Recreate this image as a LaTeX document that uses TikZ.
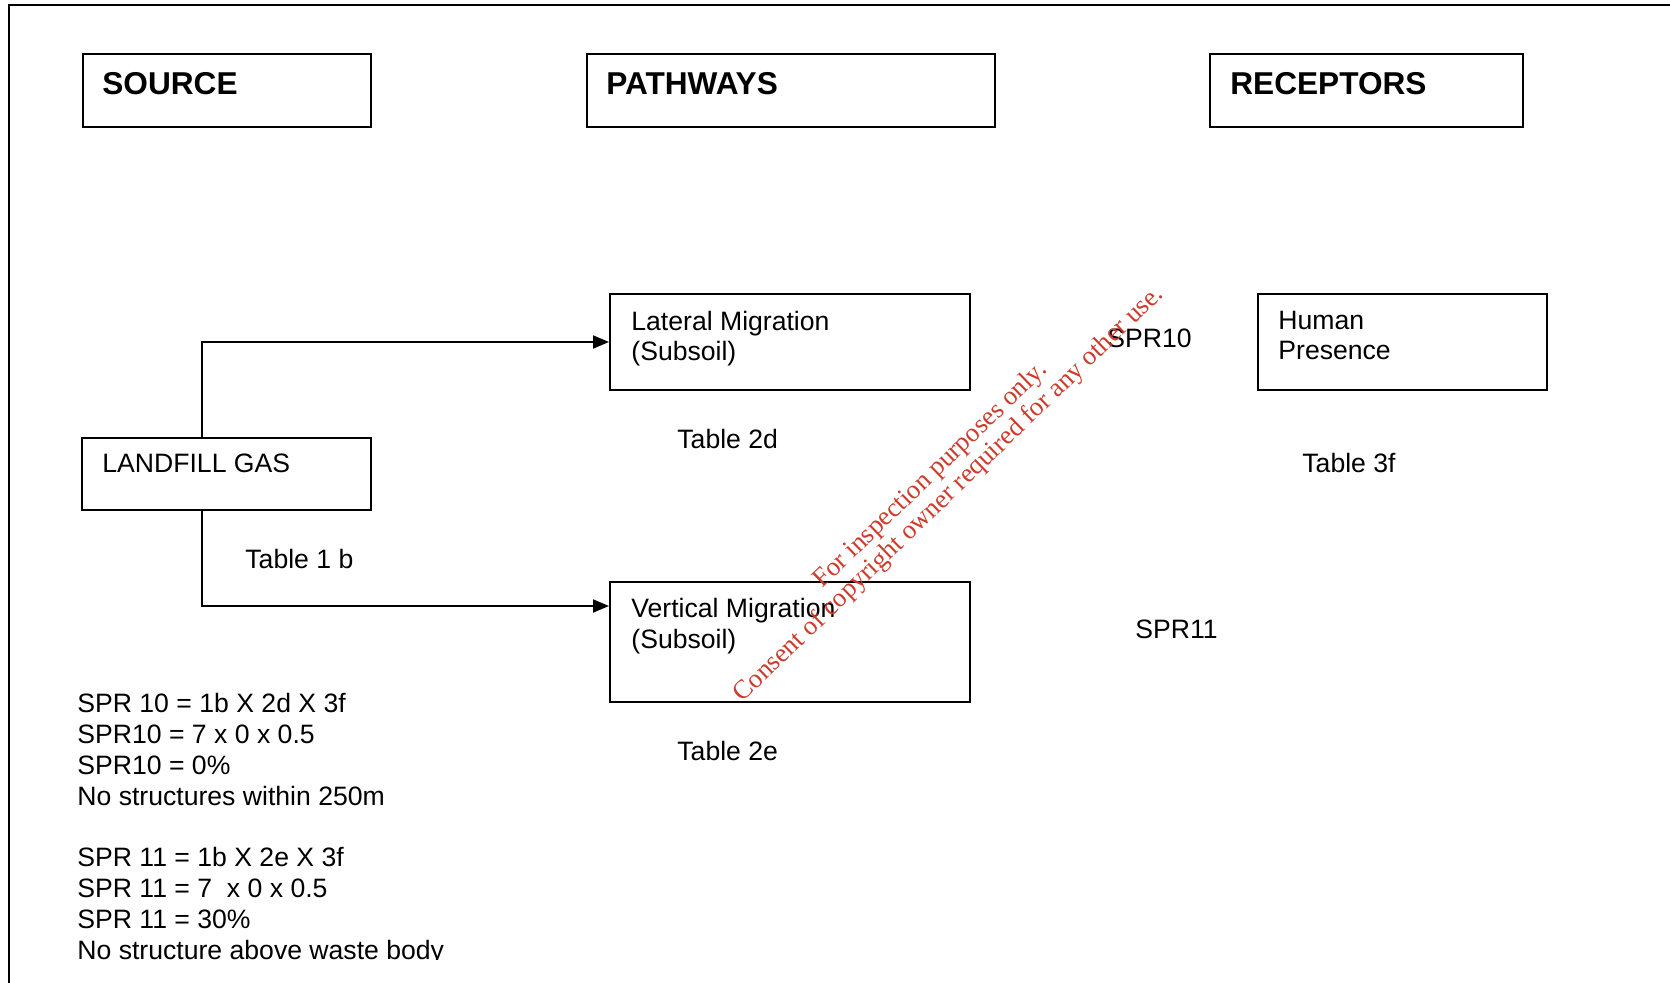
\documentclass[tikz,border=0pt]{standalone}
\usepackage{fontspec}
\setmainfont{Liberation Sans}
\newfontfamily\stampfont{Liberation Serif}
\usetikzlibrary{positioning,arrows.meta,calc}
\usepackage{xcolor}
\definecolor{stampred}{RGB}{206,58,44}

\begin{document}
\begin{tikzpicture}[x=0.5pt, y=-0.5pt,
  box/.style={draw, line width=1pt, inner sep=0pt, anchor=north west},
  head/.style={anchor=base west, inner sep=0pt, font=\fontsize{15.8}{19}\selectfont\bfseries},
  txt/.style={anchor=base west, inner sep=0pt, align=left, font=\fontsize{13.3}{15.4}\selectfont},
  conn/.style={line width=0.9pt, -{Triangle[length=8pt, width=6.5pt]}}
]
  \useasboundingbox (0,0) rectangle (1670,983);
  \draw[line width=1pt] (1670,5) -- (9,5) -- (9,983);

  % headings
  \node[box, minimum width=144pt, minimum height=36.5pt] (src) at (82,53) {};
  \node[box, minimum width=204pt, minimum height=36.5pt] (path) at (586,53) {};
  \node[box, minimum width=156.5pt, minimum height=36.5pt] (rec) at (1209,53) {};
  \node[head] (srctxt) at (102,95) {SOURCE};
  \node[head] (pathtxt) at (606,95) {PATHWAYS};
  \node[head] (rectxt) at (1230,95) {RECEPTORS};

  % source, pathways, receptor boxes (multi-line text sits on its last baseline)
  \node[box, minimum width=144.5pt, minimum height=36pt] (gas) at (81,437) {};
  \node[box, minimum width=180pt, minimum height=48pt] (lat) at (609,293) {};
  \node[box, minimum width=180pt, minimum height=60pt] (vert) at (609,581) {};
  \node[box, minimum width=144.5pt, minimum height=48pt] (hum) at (1257,293) {};
  \node[txt] (gastxt) at (102,473) {LANDFILL GAS};
  \node[txt] (lattxt) at (631,361) {Lateral Migration\\(Subsoil)};
  \node[txt] (verttxt) at (631,648) {Vertical Migration\\(Subsoil)};
  \node[txt] (humtxt) at (1278,360) {Human\\Presence};

  % table refs and SPR labels
  \node[txt] (tab1b) at (245,568) {Table 1 b};
  \node[txt] (tab2d) at (677,449) {Table 2d};
  \node[txt] (tab2e) at (677,760) {Table 2e};
  \node[txt] (tab3f) at (1302,473) {Table 3f};
  \node[txt] (spr10) at (1107,348) {SPR10};
  \node[txt] (spr11) at (1135,639) {SPR11};

  \draw[conn] ($(gas.north west)+(121,0)$) |- (lat.west);
  \draw[conn] ($(gas.south west)+(121,0)$) |- ($(vert.north west)+(0,25)$);

  % scores
  \begin{scope}
    \clip (60,680) rectangle (560,959);
    \node[txt] (sprcalc) at (77,959) {SPR 10 = 1b X 2d X 3f\\SPR10 = 7 x 0 x 0.5\\SPR10 = 0\%\\No structures within 250m\\[15.4pt]SPR 11 = 1b X 2e X 3f\\SPR 11 = 7~ x 0 x 0.5\\SPR 11 = 30\%\\No structure above waste body};
  \end{scope}

  \node[rotate=44, text=stampred, align=center, inner sep=0pt, font=\stampfont\fontsize{13.3}{12}\selectfont] (stamp) at (940,485) {For inspection purposes only.\\Consent of copyright owner required for any other use.};
\end{tikzpicture}
\end{document}
